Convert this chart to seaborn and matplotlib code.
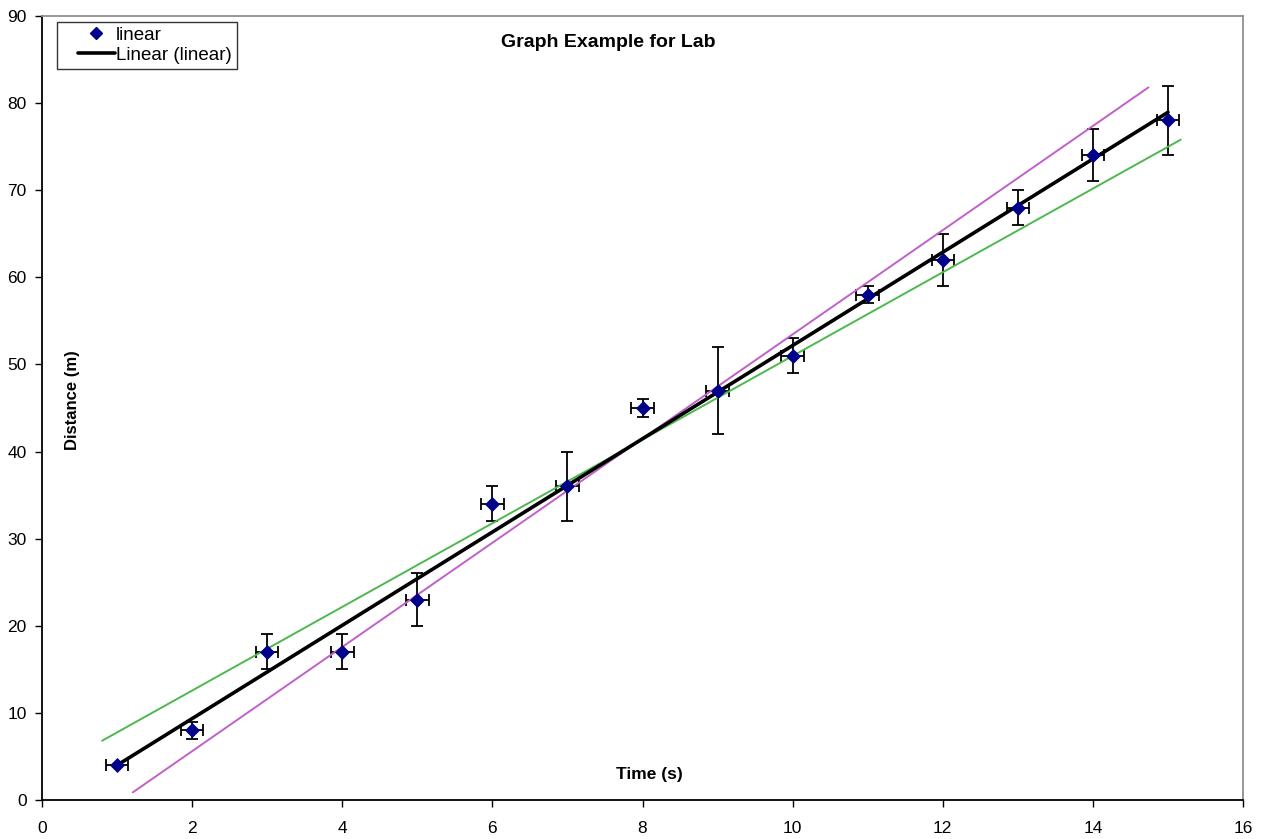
import numpy as np
import pandas as pd
import matplotlib
matplotlib.use('Agg')
import matplotlib.pyplot as plt
from matplotlib.lines import Line2D
from matplotlib.legend_handler import HandlerLine2D
import seaborn as sns

# 데이터
time_s = [1, 2, 3, 4, 5, 6, 7, 8, 9, 10, 11, 12, 13, 14, 15]
distance_m = [4, 8, 17, 17, 23, 34, 36, 45, 47, 51, 58, 62, 68, 74, 78]
y_err = [0, 1, 2, 2, 3, 2, 4, 1, 5, 2, 1, 3, 2, 3, 4]
x_err = [0.15] * 15

# 최소/최대 기울기 직선 (양 끝점)
green_x = [0.8, 15.17]
green_y = [6.8, 75.8]
magenta_x = [1.21, 14.74]
magenta_y = [0.88, 81.8]

df = pd.DataFrame({'time': time_s, 'distance': distance_m})

sns.set_style('white')
plt.rcParams['font.family'] = ['Liberation Sans', 'DejaVu Sans']
plt.rcParams['text.color'] = 'black'
plt.rcParams['axes.labelcolor'] = 'black'


# 엑셀 스타일 범례 핸들 (짧은 선, 오른쪽 정렬)
class ShortHandler(HandlerLine2D):
    def create_artists(self, legend, orig_handle, xdescent, ydescent,
                       width, height, fontsize, trans):
        arts = super().create_artists(legend, orig_handle, xdescent, ydescent,
                                      width, height, fontsize, trans)
        x0 = -xdescent + 0.3 * width
        x1 = -xdescent + width
        for a in arts:
            a.set_xdata(np.linspace(x0, x1, len(a.get_xdata())))
        return arts


fig = plt.figure(figsize=(12.62, 8.39), dpi=100)
ax = fig.add_axes([0.0333, 0.0465, 0.9517, 0.9345])

# 오차 막대
ax.errorbar(time_s, distance_m, xerr=x_err, yerr=y_err, fmt='none',
            ecolor='black', elinewidth=1.3, capsize=4.5, capthick=1.3, zorder=2)

# 보조 직선
sns.lineplot(x=green_x, y=green_y, color='#4db84d', lw=1.4, ax=ax, zorder=3)
sns.lineplot(x=magenta_x, y=magenta_y, color='#c060c8', lw=1.4, ax=ax, zorder=3)

# 추세선
sns.regplot(data=df, x='time', y='distance', scatter=False, ci=None,
            color='black', line_kws={'lw': 2.6, 'zorder': 4}, ax=ax)

# 데이터 점
sns.scatterplot(data=df, x='time', y='distance', marker='D', s=50,
                color='#00008b', edgecolor='#00008b', ax=ax, zorder=5,
                legend=False)

ax.set_xlim(0, 16)
ax.set_ylim(0, 90)
ax.set_xticks(range(0, 17, 2))
ax.set_yticks(range(0, 91, 10))
ax.tick_params(axis='both', direction='out', length=5, width=1, labelsize=12.5,
               bottom=True, left=True, colors='black')
ax.tick_params(axis='x', pad=10)
ax.tick_params(axis='y', pad=6)
ax.set_xlabel('')
ax.set_ylabel('')

for s in ['left', 'bottom']:
    ax.spines[s].set_color('black')
    ax.spines[s].set_linewidth(1.3)
for s in ['top', 'right']:
    ax.spines[s].set_color('#909090')
    ax.spines[s].set_linewidth(1.3)

ax.text(0.382, 0.966, 'Graph Example for Lab', transform=ax.transAxes,
        ha='left', va='center', fontsize=14, fontweight='bold')
ax.text(0.506, 0.032, 'Time (s)', transform=ax.transAxes,
        ha='center', va='center', fontsize=12.5, fontweight='bold')
ax.text(0.025, 0.51, 'Distance (m)', transform=ax.transAxes, rotation=90,
        ha='center', va='center', fontsize=12, fontweight='bold')

# 범례
pt_handle = Line2D([], [], marker='D', ls='none', color='#00008b', markersize=6.5)
ln_handle = Line2D([], [], color='black', lw=2.6)
leg = ax.legend([pt_handle, ln_handle], ['linear', 'Linear (linear)'],
                loc='upper left', bbox_to_anchor=(0.0125, 0.992), fontsize=13.5,
                frameon=True, fancybox=False, edgecolor='black',
                handlelength=2.85, handletextpad=0.05, borderpad=0.25,
                labelspacing=0.15, borderaxespad=0, numpoints=1,
                handler_map={Line2D: ShortHandler()})
leg.get_frame().set_linewidth(1.0)

fig.savefig('out.png', dpi=100)
